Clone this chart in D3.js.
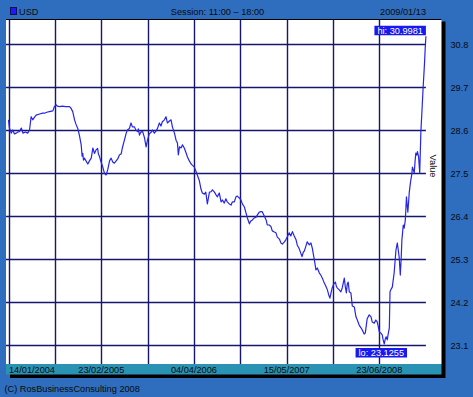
<!DOCTYPE html>
<html>
<head>
<meta charset="utf-8">
<script src="https://cdn.jsdelivr.net/npm/d3@7"></script>
<style>
  body { margin: 0; background: #2f6ebe; }
  svg { display: block; }
  text { font-family: "Liberation Sans", Arial, sans-serif; font-size: 9.2px; fill: #0a0a0a; }
</style>
</head>
<body>
<svg id="chart" width="473" height="397"></svg>
<script>
// USD rate
const dates = [
  "2004-01-14","2004-01-18","2004-01-26","2004-02-02","2004-02-09","2004-02-17","2004-02-24","2004-03-02","2004-03-10","2004-03-17",
  "2004-03-28","2004-04-07","2004-04-15","2004-04-22","2004-04-29","2004-05-07","2004-05-14","2004-05-29","2004-06-11","2004-06-19",
  "2004-07-03","2004-07-11","2004-07-26","2004-08-02","2004-08-10","2004-08-15","2004-08-24","2004-09-06","2004-09-19","2004-10-07",
  "2004-10-13","2004-10-21","2004-10-29","2004-11-04","2004-11-12","2004-11-19","2004-11-27","2004-12-01","2004-12-04","2004-12-07",
  "2004-12-11","2004-12-18","2004-12-26","2005-01-02","2005-01-10","2005-01-13","2005-01-17","2005-01-24","2005-01-31","2005-02-07",
  "2005-02-10","2005-02-15","2005-02-22","2005-02-28","2005-03-09","2005-03-16","2005-03-23","2005-03-31","2005-04-07","2005-04-14",
  "2005-04-21","2005-05-06","2005-05-13","2005-05-21","2005-05-26","2005-06-04","2005-06-12","2005-06-17","2005-06-26","2005-07-03",
  "2005-07-09","2005-07-18","2005-07-24","2005-08-01","2005-08-04","2005-08-09","2005-08-15","2005-08-23","2005-08-31","2005-09-07",
  "2005-09-13","2005-09-21","2005-09-30","2005-10-05","2005-10-13","2005-10-20","2005-10-26","2005-11-04","2005-11-11","2005-11-17",
  "2005-11-26","2005-12-03","2005-12-09","2005-12-18","2005-12-25","2005-12-31","2006-01-09","2006-01-16","2006-01-22","2006-01-26",
  "2006-01-31","2006-02-07","2006-02-13","2006-02-21","2006-03-01","2006-03-07","2006-03-15","2006-03-23","2006-03-28","2006-04-06",
  "2006-04-14","2006-04-19","2006-04-28","2006-05-05","2006-05-11","2006-05-20","2006-05-26","2006-06-02","2006-06-11","2006-06-18",
  "2006-06-24","2006-07-03","2006-07-10","2006-07-16","2006-07-24","2006-08-01","2006-08-07","2006-08-15","2006-08-22","2006-08-28",
  "2006-09-06","2006-09-14","2006-09-19","2006-09-28","2006-10-05","2006-10-11","2006-10-20","2006-10-27","2006-11-02","2006-11-11",
  "2006-11-17","2006-11-24","2006-12-03","2006-12-09","2006-12-16","2006-12-24","2007-01-01","2007-01-07","2007-01-15","2007-01-23",
  "2007-01-28","2007-02-06","2007-02-14","2007-02-19","2007-02-28","2007-03-07","2007-03-13","2007-03-22","2007-03-29","2007-04-04",
  "2007-04-13","2007-04-20","2007-04-26","2007-05-05","2007-05-11","2007-05-18","2007-05-26","2007-06-02","2007-06-09","2007-06-17",
  "2007-06-25","2007-06-30","2007-07-09","2007-07-21","2007-07-27","2007-07-31","2007-08-07","2007-08-13","2007-08-22","2007-08-29",
  "2007-09-04","2007-09-13","2007-09-20","2007-09-26","2007-10-05","2007-10-11","2007-10-18","2007-10-26","2007-11-02","2007-11-09",
  "2007-11-15","2007-11-20","2007-11-26","2007-11-30","2007-12-07","2007-12-14","2007-12-18","2007-12-22","2007-12-31","2008-01-07",
  "2008-01-13","2008-01-22","2008-01-26","2008-01-31","2008-02-04","2008-02-08","2008-02-13","2008-02-20","2008-02-26","2008-03-06",
  "2008-03-13","2008-03-19","2008-03-27","2008-04-04","2008-04-10","2008-04-18","2008-04-23","2008-05-01","2008-05-10","2008-05-18",
  "2008-05-23","2008-06-01","2008-06-08","2008-06-14","2008-06-18","2008-06-23","2008-06-29","2008-07-06","2008-07-10","2008-07-15",
  "2008-07-19","2008-07-23","2008-07-28","2008-08-01","2008-08-06","2008-08-09","2008-08-14","2008-08-19","2008-08-23","2008-08-27",
  "2008-09-04","2008-09-10","2008-09-14","2008-09-18","2008-09-23","2008-09-27","2008-09-30","2008-10-06","2008-10-10","2008-10-15",
  "2008-10-20","2008-10-23","2008-10-26","2008-10-30","2008-11-01","2008-11-05","2008-11-08","2008-11-12","2008-11-15","2008-11-19",
  "2008-11-23","2008-11-27","2008-11-30","2008-12-04","2008-12-07","2008-12-12","2008-12-17","2008-12-22","2008-12-27","2009-01-01",
  "2009-01-07","2009-01-10","2009-01-13"
];
const values = [
  28.86,28.65,28.52,28.60,28.50,28.52,28.55,28.56,28.65,28.52,
  28.55,28.52,28.60,28.94,28.86,28.93,28.98,29.01,29.03,29.03,
  29.06,29.07,29.09,29.20,29.24,29.21,29.20,29.21,29.20,29.20,
  29.16,29.07,28.86,28.75,28.64,28.47,28.22,27.93,28.00,27.83,
  27.88,27.81,27.73,27.81,27.88,27.99,28.14,28.00,28.09,28.13,
  27.99,27.92,27.78,27.68,27.49,27.45,27.58,27.81,27.88,27.78,
  27.75,27.86,27.96,27.99,28.14,28.34,28.52,28.60,28.64,28.78,
  28.68,28.68,28.60,28.56,28.63,28.47,28.55,28.56,28.40,28.17,
  28.34,28.50,28.55,28.60,28.52,28.57,28.63,28.78,28.70,28.81,
  28.86,28.94,28.78,28.83,28.86,28.68,28.52,28.34,28.27,27.96,
  28.17,28.14,28.22,28.14,28.01,27.91,27.81,27.73,27.70,27.65,
  27.53,27.45,27.30,27.09,26.99,26.96,27.01,26.71,27.01,27.02,
  27.07,27.01,26.94,26.89,26.99,26.76,26.81,26.73,26.84,26.76,
  26.71,26.68,26.76,26.76,26.89,26.91,26.86,26.81,26.71,26.63,
  26.50,26.35,26.20,26.27,26.30,26.35,26.37,26.43,26.50,26.51,
  26.51,26.40,26.30,26.17,26.17,26.13,26.02,25.99,25.97,25.86,
  25.81,25.71,25.68,25.74,25.79,25.87,25.97,25.89,26.00,25.89,
  25.79,25.66,25.56,25.36,25.48,25.50,25.63,25.74,25.66,25.71,
  25.58,25.28,25.02,25.07,24.94,24.89,24.81,24.69,24.61,24.51,
  24.38,24.30,24.46,24.56,24.66,24.71,24.61,24.56,24.51,24.46,
  24.56,24.81,24.61,24.43,24.66,24.71,24.46,24.43,24.10,24.07,
  23.82,23.74,23.61,23.54,23.48,23.38,23.41,23.77,23.87,23.82,
  23.69,23.66,23.74,23.69,23.59,23.44,23.41,23.36,23.23,23.1255,
  23.25,23.31,23.23,23.38,23.54,24.46,24.53,24.58,24.76,24.94,
  25.53,25.71,25.53,25.35,24.89,25.33,25.79,26.17,26.09,26.30,
  26.89,26.68,26.50,26.81,26.99,27.19,27.32,27.45,27.65,27.58,
  27.50,27.83,28.01,27.96,28.05,27.91,27.50,28.55,29.11,29.70,
  30.31,30.70,30.9981
];
const yTicks = [30.8, 29.7, 28.6, 27.5, 26.4, 25.3, 24.2, 23.1];
const xLabelDates = ["2004-01-14", "2005-02-23", "2006-04-04", "2007-05-15", "2008-06-23"];
const xGridDates = ["2004-01-14", "2004-08-04", "2005-02-23", "2005-09-15", "2006-04-04", "2006-10-23", "2007-05-15", "2007-12-04", "2008-06-23"];
const seriesName = "USD";
const sessionText = "Session: 11:00 \u2013 18:00";
const lastDateText = "2009/01/13";
const copyright = "(C) RosBusinessConsulting 2008";

const parse = d3.timeParse("%Y-%m-%d");
const fmt = d3.timeFormat("%d/%m/%Y");
const data = dates.map((d, i) => ({ date: parse(d), value: values[i] }));

const svg = d3.select("#chart");
const W = 473, H = 397;
const plot = { left: 6, top: 19.5, right: 441.5, bottom: 364 };

const x = d3.scaleTime()
  .domain([parse("2004-01-14"), parse("2009-01-13")])
  .range([8.5, 425.9]);
const y = d3.scaleLinear().domain([23.1, 30.8]).range([345, 44]);

// frame
svg.append("rect").attr("x", 0).attr("y", 0).attr("width", W).attr("height", H).attr("fill", "#2f6ebe");
// drop shadow
svg.append("rect").attr("x", plot.left + 4).attr("y", plot.top + 2)
  .attr("width", plot.right - plot.left).attr("height", 378 - plot.top - 2).attr("fill", "#000");
// plot area
svg.append("rect").attr("x", plot.left).attr("y", plot.top)
  .attr("width", plot.right - plot.left).attr("height", plot.bottom - plot.top).attr("fill", "#fff");
// date strip
svg.append("rect").attr("x", plot.left).attr("y", plot.bottom)
  .attr("width", plot.right - plot.left).attr("height", 10.5).attr("fill", "#2a93b4");
svg.append("line").attr("x1", plot.left).attr("x2", plot.right).attr("y1", plot.top).attr("y2", plot.top)
  .attr("stroke", "#000").attr("stroke-width", 1);

const g = svg.append("g");
const xEnd = x(data[data.length - 1].date);

g.selectAll("line.hgrid").data(yTicks).enter().append("line")
  .attr("class", "hgrid")
  .attr("x1", plot.left).attr("x2", xEnd)
  .attr("y1", d => Math.round(y(d)) + 0.5).attr("y2", d => Math.round(y(d)) + 0.5)
  .attr("stroke", "#16166e").attr("stroke-width", 1.4);

g.selectAll("line.vgrid").data(xGridDates.map(parse)).enter().append("line")
  .attr("class", "vgrid")
  .attr("x1", d => Math.round(x(d)) + 0.5).attr("x2", d => Math.round(x(d)) + 0.5)
  .attr("y1", plot.top).attr("y2", plot.bottom)
  .attr("stroke", "#16166e").attr("stroke-width", 1.4);

const line = d3.line().x(d => x(d.date)).y(d => y(d.value));
g.append("path").datum(data)
  .attr("d", line)
  .attr("fill", "none")
  .attr("stroke", "#2525e8")
  .attr("stroke-width", 1.2)
  .attr("stroke-linejoin", "round");

// hi / lo labels
const hi = data.reduce((a, b) => (b.value > a.value ? b : a));
const lo = data.reduce((a, b) => (b.value < a.value ? b : a));

function tag(txt, anchorX, topY, align) {
  const t = svg.append("text").text(txt).attr("fill", "#fff").style("fill", "#fff");
  const w = t.node().getComputedTextLength() + 6;
  const bx = align === "right" ? anchorX - w : anchorX - w / 2;
  svg.insert("rect", () => t.node())
    .attr("x", bx).attr("y", topY).attr("width", w).attr("height", 9.5)
    .attr("fill", "#1818f0");
  t.attr("x", bx + 3).attr("y", topY + 8.2);
}
tag("hi: " + hi.value.toFixed(4), x(hi.date), y(hi.value) - 10.5, "right");
tag("lo: " + lo.value.toFixed(4), x(lo.date) - 3, y(lo.value) + 4, "center");

// right value axis
svg.selectAll("text.ylab").data(yTicks).enter().append("text")
  .attr("class", "ylab")
  .attr("x", 450.5).attr("y", d => y(d) + 3.5)
  .text(d => d.toFixed(1));

svg.append("text").attr("transform", "translate(429.5,166) rotate(90)")
  .attr("text-anchor", "middle").text("Value");

// date labels
svg.selectAll("text.xlab").data(xLabelDates.map(parse)).enter().append("text")
  .attr("class", "xlab")
  .attr("x", (d, i) => (i === 0 ? 9 : x(d)))
  .attr("y", 373.3)
  .attr("text-anchor", (d, i) => (i === 0 ? "start" : "middle"))
  .text(d => fmt(d));

// header
svg.append("rect").attr("x", 10.5).attr("y", 7.5).attr("width", 6).attr("height", 7)
  .attr("fill", "#1a1aff").attr("stroke", "#101050").attr("stroke-width", 1);
svg.append("text").attr("x", 19).attr("y", 15).text(seriesName);
svg.append("text").attr("x", 217.5).attr("y", 15).attr("text-anchor", "middle").text(sessionText);
svg.append("text").attr("x", 426).attr("y", 15).attr("text-anchor", "end").text(lastDateText);
svg.append("text").attr("x", 4.5).attr("y", 392).text(copyright);
</script>
</body>
</html>
